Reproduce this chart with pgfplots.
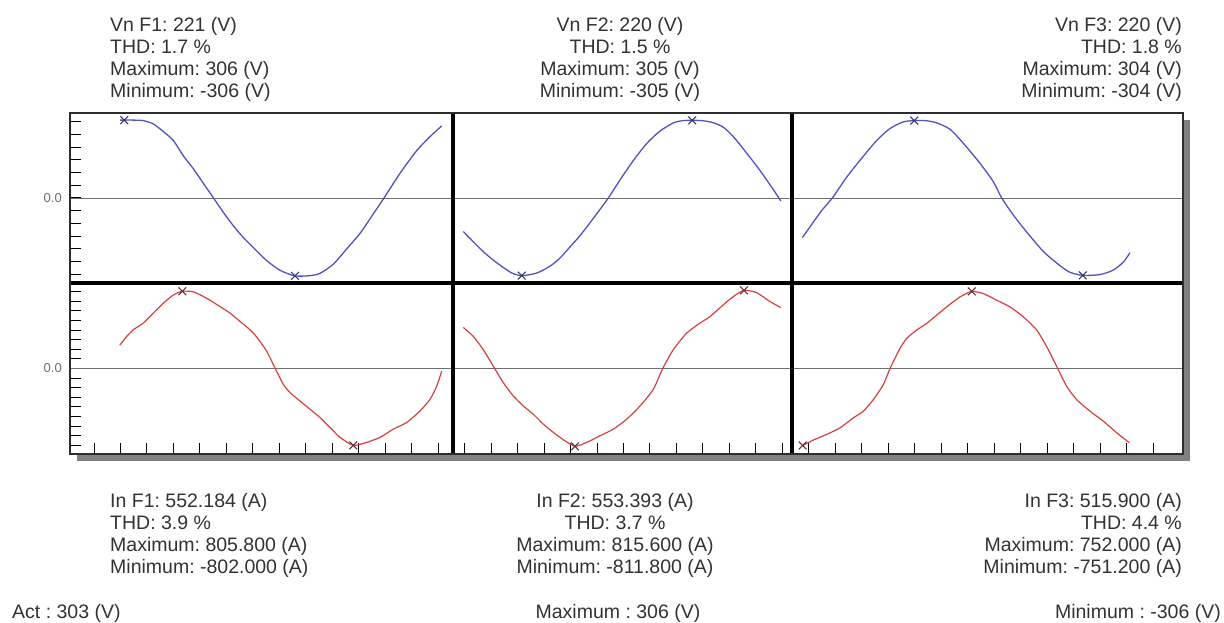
\documentclass[border=0pt]{standalone}
\usepackage{pgfplots}
\pgfplotsset{compat=1.18}
\usepackage{fontspec}
\setmainfont{Liberation Sans}
\frenchspacing

\definecolor{vcol}{RGB}{82,82,192}
\definecolor{icol}{RGB}{214,64,64}
\definecolor{vmark}{RGB}{55,55,100}
\definecolor{imark}{RGB}{105,45,55}
\definecolor{txt}{RGB}{50,50,50}
\definecolor{zerol}{RGB}{110,110,110}
\definecolor{shadow}{RGB}{128,128,128}
\definecolor{framec}{RGB}{45,45,45}

\newcommand{\infofont}{\fontsize{19.5bp}{22bp}\selectfont}
% four-line readout block: anchor, x, baseline of first line, lines
\newcommand{\readout}[7]{%
  \node[anchor=#1, inner sep=0pt, text=txt, font=\infofont] at (#2,#3) {#4};
  \node[anchor=#1, inner sep=0pt, text=txt, font=\infofont] at (#2,#3-22) {#5};
  \node[anchor=#1, inner sep=0pt, text=txt, font=\infofont] at (#2,#3-44) {#6};
  \node[anchor=#1, inner sep=0pt, text=txt, font=\infofont] at (#2,#3-66) {#7};
}

\pgfplotsset{
  panel/.style={
    scale only axis, anchor=south west, clip=false,
    axis line style={draw=none},
    xticklabels={}, yticklabels={},
    xtick pos=bottom, ytick pos=left,
    tick align=inside, major tick length=11bp,
    tick style={black, line width=1bp},
    yticklabel style={font=\fontsize{13bp}{13bp}\selectfont, text=zerol, anchor=east, inner sep=0pt, xshift=-8bp},
    extra y ticks={0},
    extra y tick style={grid=major, major grid style={zerol, line width=0.9bp}, major tick length=0pt},
    extra y tick labels={},
  },
  toprow/.style={panel, height=170bp, xtick=\empty, ymin=-334, ymax=334},
  botrow/.style={panel, height=171bp, xtick={24,50.475,...,1084}},
  vline/.style={vcol, line width=1.3bp, smooth, tension=0.45, no markers},
  iline/.style={icol, line width=1.2bp, smooth, tension=0.35, no markers},
  vx/.style={only marks, mark=x, mark size=5.5bp, mark options={vmark, line width=1.1bp}},
  ix/.style={only marks, mark=x, mark size=5.5bp, mark options={imark, line width=1.1bp}},
}

\begin{document}
\begin{tikzpicture}[x=1bp, y=1bp]
\useasboundingbox (0,0) rectangle (1224,623);

% drop shadow and plot background
\fill[shadow] (77,162) rectangle (1190,503);
\fill[white] (70,169) rectangle (1183,510);

% ---------- phase voltages ----------
\begin{axis}[toprow, at={(70bp,340bp)}, width=383bp, xmin=0, xmax=383,
  ytick={-300,-250,...,300}, extra y tick labels={0.0}]
\addplot[vline] coordinates {
(50,306) (54.3,306) (63,306) (73.3,304) (83.3,291) (93.3,261) (103.3,226)
(113.3,166) (123.3,115) (133.3,58) (143.3,1) (156.7,-75) (170,-141)
(183.3,-195) (196.7,-246) (210,-284) (225,-306) (240,-305) (250,-296)
(263.3,-260) (276.7,-200) (290,-139) (302,-70) (314,0) (330,97)
(346.7,186) (360,241) (371.7,283)};
\addplot[vx] coordinates {(54.3,306) (225,-306)};
\end{axis}

\begin{axis}[toprow, at={(453bp,340bp)}, width=339bp, xmin=383, xmax=722,
  ytick=\empty]
\addplot[vline] coordinates {
(393.3,-132) (403.3,-172) (413.3,-211) (423.3,-244) (433.3,-273) (442,-295)
(451.7,-305) (466.7,-295) (480,-268) (490,-236) (500,-192) (510,-148)
(523.3,-80) (538.3,0) (550,71) (563.3,147) (576.7,214) (590,263) (603.3,295)
(613,304) (622.3,305) (632,304) (643,296) (653.3,278) (663.3,241) (676.7,176)
(690,108) (703.3,33) (710.7,-12)};
\addplot[vx] coordinates {(622.3,305) (451.7,-305)};
\end{axis}

\begin{axis}[toprow, at={(792bp,340bp)}, width=391bp, xmin=722, xmax=1113,
  ytick=\empty]
\addplot[vline] coordinates {
(732.3,-156) (743.3,-95) (752,-48) (762.3,0) (776.7,82) (790,148) (806.7,226)
(820,273) (833.3,299) (844.3,304) (855,304) (866,296) (880,270) (893.3,215)
(910,136) (923.3,64) (931.7,0) (943.3,-67) (956.7,-134) (973.3,-210)
(990,-266) (1000,-292) (1012.7,-304) (1030,-301) (1043.3,-283) (1053.3,-252)
(1060,-215)};
\addplot[vx] coordinates {(844.3,304) (1012.7,-304)};
\end{axis}

% ---------- phase currents ----------
\begin{axis}[botrow, at={(70bp,169bp)}, width=383bp, xmin=0, xmax=383,
  ymin=-892, ymax=892, ytick={-800,-700,...,800}, extra y tick labels={0.0}]
\addplot[iline] coordinates {
(49.7,242) (56.7,335) (63.3,404) (73.3,474) (83.3,578) (93.3,681) (103.3,767)
(112.3,805.8) (123.3,800) (136.7,733) (150,646) (160,578) (170,491) (180,404)
(186.7,328) (196.7,180) (205.3,0) (213.3,-166) (220,-252) (230,-339)
(240,-425) (250,-512) (260,-615) (270,-719) (283.3,-802) (296.7,-771)
(310,-719) (323.3,-633) (336.7,-563) (350,-443) (360,-322) (366.7,-184)
(371.7,-28)};
\addplot[ix] coordinates {(112.3,805.8) (283.3,-802)};
\end{axis}

\begin{axis}[botrow, at={(453bp,169bp)}, width=339bp, xmin=383, xmax=722,
  ymin=-892, ymax=892, ytick=\empty]
\addplot[iline] coordinates {
(393.3,428) (403.3,335) (413.3,197) (423.3,24) (433.3,-148) (443.3,-287)
(453.3,-391) (463.3,-477) (473.3,-581) (483.3,-667) (493.3,-743)
(505,-811.8) (516.7,-771) (530,-702) (543.3,-633) (556.7,-529) (570,-391)
(583.3,-218) (592.7,0) (603.3,197) (616.7,370) (630,474) (640,542)
(653.3,664) (663.3,750) (674,815.6) (686.7,791) (700,698) (710.7,636)};
\addplot[ix] coordinates {(674,815.6) (505,-811.8)};
\end{axis}

\begin{axis}[botrow, at={(792bp,169bp)}, width=391bp, xmin=722, xmax=1113,
  ymin=-834, ymax=834, ytick=\empty]
\addplot[iline] coordinates {
(732.7,-751.2) (743.3,-698) (756.7,-643) (770,-579) (783.3,-482)
(793.3,-417) (803.3,-304) (813.3,-158) (820,0) (830,197) (836.7,294)
(846.7,375) (856.7,440) (866.7,521) (876.7,601) (890,698) (901.7,752)
(913.3,731) (926.7,666) (940,601) (953.3,504) (966.7,375) (976.7,213)
(986.7,19) (996.7,-175) (1006.7,-304) (1020,-417) (1033.3,-514)
(1046.7,-627) (1059.3,-724)};
\addplot[ix] coordinates {(901.7,752) (732.7,-751.2)};
\end{axis}

% phase separators and outer frame
\draw[black, line width=4.6bp] (70,340) -- (1183,340);
\draw[black, line width=4.6bp] (453,169) -- (453,510);
\draw[black, line width=4.6bp] (792,169) -- (792,510);
\draw[framec, line width=1.3bp] (70,169) rectangle (1183,510);

% readouts
\readout{base west}{110}{591}{Vn F1: 221 (V)}{THD: 1.7 \%}{Maximum: 306 (V)}{Minimum: -306 (V)}
\readout{base}{620}{591}{Vn F2: 220 (V)}{THD: 1.5 \%}{Maximum: 305 (V)}{Minimum: -305 (V)}
\readout{base east}{1182}{591}{Vn F3: 220 (V)}{THD: 1.8 \%}{Maximum: 304 (V)}{Minimum: -304 (V)}

\readout{base west}{110}{115}{In F1: 552.184 (A)}{THD: 3.9 \%}{Maximum: 805.800 (A)}{Minimum: -802.000 (A)}
\readout{base}{615}{115}{In F2: 553.393 (A)}{THD: 3.7 \%}{Maximum: 815.600 (A)}{Minimum: -811.800 (A)}
\readout{base east}{1182}{115}{In F3: 515.900 (A)}{THD: 4.4 \%}{Maximum: 752.000 (A)}{Minimum: -751.200 (A)}

\node[anchor=base west, inner sep=0pt, text=txt, font=\infofont] at (12,4) {Act : 303 (V)};
\node[anchor=base, inner sep=0pt, text=txt, font=\infofont] at (618,4) {Maximum : 306 (V)};
\node[anchor=base east, inner sep=0pt, text=txt, font=\infofont] at (1221,4) {Minimum : -306 (V)};
\end{tikzpicture}
\end{document}
